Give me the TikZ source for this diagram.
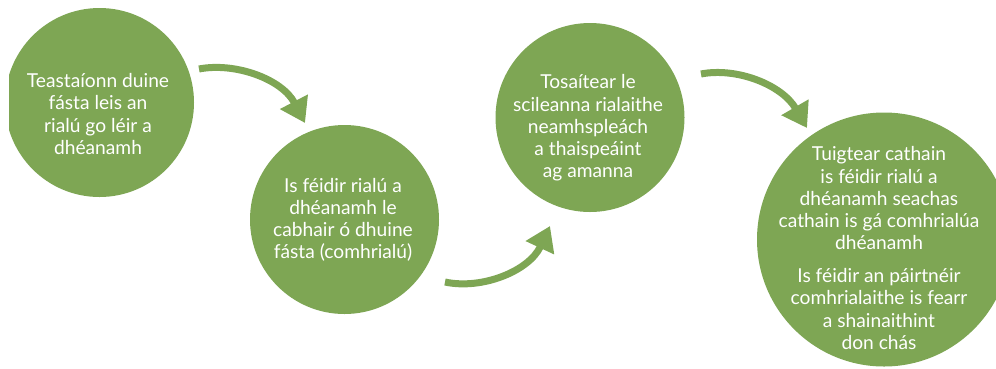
\documentclass[tikz,border=0pt]{standalone}
\usepackage{fontspec}
\setmainfont{Lato}
\usepackage{xcolor}
\usetikzlibrary{arrows.meta}
\definecolor{leafgreen}{RGB}{126,166,84}

\begin{document}
\begin{tikzpicture}[x=1pt,y=-1pt,
        bubble/.style={circle,fill=leafgreen,draw=none,inner sep=0pt},
        bubbletext/.style={align=center,text=white,font=\fontsize{19.2}{22.2}\selectfont},
        curvearrow/.style={draw=leafgreen,line width=7pt,-{Triangle[length=24pt,width=30pt]}}]
        % \draw[help lines] grid(996,368);
        \useasboundingbox (0,0) rectangle (996,368);
        \clip (9,0) rectangle (996,368);

        \node[bubble,minimum size=189pt] (c1) at (99.5,102.5) {};
        \node[bubble,minimum size=189pt] (c2) at (344.5,219.5) {};
        \node[bubble,minimum size=189pt] (c3) at (590,117.5) {};
        \node[bubble,minimum size=254pt] (c4) at (884,239.5) {};

        \node[bubbletext] (t1) at (98,114) {Teastaíonn duine\\fásta leis an\\rialú go léir a\\dhéanamh};
        \node[bubbletext] (t2) at (343,220) {Is féidir rialú a\\dhéanamh le\\cabhair ó dhuine\\fásta (comhrialú)};
        \node[bubbletext] (t3) at (588,128) {Tosaítear le\\scileanna rialaithe\\neamhspleách\\a thaispeáint\\ag amanna};
        \node[bubbletext] (t4) at (879,248) {Tuigtear cathain\\is féidir rialú a\\dhéanamh seachas\\cathain is gá comhrialúa\\dhéanamh\\[10.8pt]Is féidir an páirtnéir\\comhrialaithe is fearr\\a shainaithint\\don chás};

        \coordinate (a1s) at (199,69);
        \coordinate (a1e) at (305,123);
        \coordinate (a2s) at (445,282);
        \coordinate (a2e) at (550,226);
        \coordinate (a3s) at (701,74);
        \coordinate (a3e) at (807,128);

        \draw[curvearrow] (a1s) .. controls (235,62) and (282,79) .. (a1e);
        \draw[curvearrow] (a2s) .. controls (482,290) and (529,271) .. (a2e);
        \draw[curvearrow] (a3s) .. controls (737,67) and (782,85) .. (a3e);
    \end{tikzpicture}
\end{document}
